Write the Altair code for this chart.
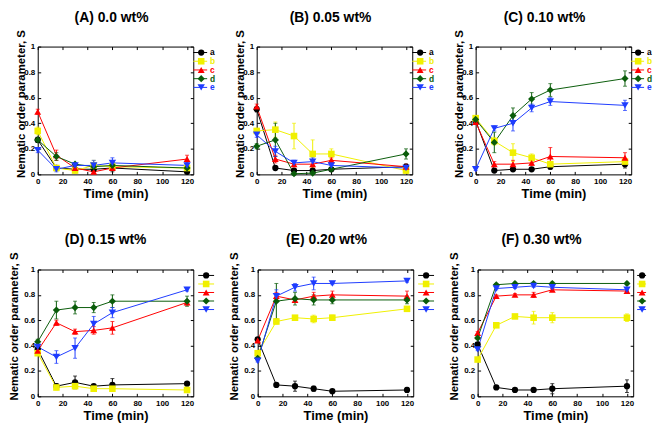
import altair as alt
import pandas as pd

# ---------------- data ----------------
times = [0, 15, 30, 45, 60, 120]
series = ["a", "b", "c", "d", "e"]
series_colors = ["#000000", "#f0f000", "#ff0000", "#0a5c0a", "#1e3cff"]
series_shapes = ["circle", "square", "triangle-up", "diamond", "triangle-down"]
series_sizes = [40, 56, 40, 30, 40]
x_ticks = [0, 20, 40, 60, 80, 100, 120]
y_ticks = [0, 0.2, 0.4, 0.6, 0.8, 1]

panel_titles = ["(A) 0.0 wt%", "(B) 0.05 wt%", "(C) 0.10 wt%",
                "(D) 0.15 wt%", "(E) 0.20 wt%", "(F) 0.30 wt%"]

# rows: series a, b, c, d, e ; columns: times
A_S = [[0.27, 0.05, 0.04, 0.04, 0.05, 0.02],
       [0.34, 0.05, 0.03, 0.07, 0.06, 0.05],
       [0.49, 0.15, 0.05, 0.02, 0.05, 0.12],
       [0.27, 0.14, 0.08, 0.06, 0.07, 0.05],
       [0.19, 0.04, 0.07, 0.07, 0.09, 0.07]]
A_err = [[0.02, 0.02, 0.01, 0.01, 0.03, 0.01],
         [0.03, 0.02, 0.02, 0.04, 0.03, 0.02],
         [0.02, 0.04, 0.02, 0.01, 0.02, 0.03],
         [0.02, 0.03, 0.01, 0.02, 0.02, 0.02],
         [0.02, 0.02, 0.02, 0.04, 0.04, 0.03]]

B_S = [[0.51, 0.05, 0.03, 0.03, 0.04, 0.06],
       [0.34, 0.35, 0.30, 0.16, 0.16, 0.03],
       [0.53, 0.12, 0.08, 0.08, 0.11, 0.06],
       [0.22, 0.27, 0.005, 0.01, 0.04, 0.16],
       [0.31, 0.18, 0.09, 0.10, 0.07, 0.05]]
B_err = [[0.02, 0.01, 0.01, 0.01, 0.01, 0.02],
         [0.02, 0.06, 0.10, 0.11, 0.04, 0.02],
         [0.02, 0.03, 0.02, 0.02, 0.02, 0.02],
         [0.02, 0.13, 0.01, 0.01, 0.01, 0.04],
         [0.02, 0.04, 0.02, 0.03, 0.02, 0.02]]

C_S = [[0.42, 0.03, 0.04, 0.04, 0.06, 0.08],
       [0.44, 0.26, 0.17, 0.13, 0.08, 0.10],
       [0.41, 0.08, 0.08, 0.09, 0.14, 0.13],
       [0.43, 0.25, 0.46, 0.59, 0.66, 0.75],
       [0.04, 0.36, 0.40, 0.52, 0.57, 0.54]]
C_err = [[0.02, 0.01, 0.01, 0.01, 0.02, 0.03],
         [0.02, 0.03, 0.07, 0.03, 0.02, 0.02],
         [0.02, 0.02, 0.03, 0.02, 0.07, 0.04],
         [0.02, 0.08, 0.06, 0.05, 0.05, 0.06],
         [0.01, 0.02, 0.06, 0.03, 0.03, 0.04]]

D_S = [[0.37, 0.08, 0.11, 0.08, 0.09, 0.10],
       [0.34, 0.07, 0.08, 0.06, 0.06, 0.05],
       [0.36, 0.58, 0.51, 0.52, 0.54, 0.74],
       [0.43, 0.68, 0.70, 0.70, 0.75, 0.75],
       [0.39, 0.31, 0.38, 0.57, 0.66, 0.84]]
D_err = [[0.02, 0.02, 0.05, 0.01, 0.05, 0.01],
         [0.01, 0.02, 0.02, 0.01, 0.01, 0.01],
         [0.02, 0.02, 0.02, 0.03, 0.05, 0.02],
         [0.02, 0.07, 0.05, 0.04, 0.05, 0.04],
         [0.02, 0.05, 0.08, 0.06, 0.04, 0.01]]

E_S = [[0.45, 0.09, 0.08, 0.06, 0.04, 0.05],
       [0.34, 0.59, 0.62, 0.61, 0.62, 0.69],
       [0.44, 0.79, 0.76, 0.79, 0.80, 0.79],
       [0.30, 0.75, 0.77, 0.76, 0.76, 0.76],
       [0.28, 0.79, 0.86, 0.89, 0.89, 0.91]]
E_err = [[0.01, 0.01, 0.04, 0.02, 0.01, 0.02],
         [0.01, 0.02, 0.01, 0.03, 0.02, 0.01],
         [0.01, 0.03, 0.02, 0.03, 0.03, 0.04],
         [0.02, 0.14, 0.05, 0.04, 0.03, 0.03],
         [0.01, 0.05, 0.03, 0.05, 0.01, 0.01]]

F_S = [[0.41, 0.07, 0.05, 0.05, 0.06, 0.08],
       [0.29, 0.56, 0.63, 0.62, 0.62, 0.62],
       [0.50, 0.79, 0.80, 0.80, 0.84, 0.83],
       [0.46, 0.88, 0.89, 0.89, 0.89, 0.89],
       [0.37, 0.85, 0.86, 0.87, 0.86, 0.84]]
F_err = [[0.01, 0.01, 0.01, 0.01, 0.04, 0.05],
         [0.01, 0.01, 0.01, 0.05, 0.04, 0.03],
         [0.01, 0.01, 0.01, 0.02, 0.01, 0.01],
         [0.01, 0.01, 0.01, 0.01, 0.01, 0.01],
         [0.01, 0.01, 0.01, 0.01, 0.01, 0.01]]

# ---------------- styling ----------------
FONT = "Liberation Sans"
W = 157
Y_TITLE = "Nematic order parameter, S"


def make_panel(title, vals, errs, title_dx, with_text, leg, y_title_x, H):
    recs = []
    for s, v, e in zip(series, vals, errs):
        for t, y, er in zip(times, v, e):
            recs.append({"series": s, "time": t, "S": y, "lo": y - er, "hi": y + er})
    df = pd.DataFrame(recs)

    xs = alt.Scale(domain=[0, 125], nice=False, zero=False)
    ys = alt.Scale(domain=[0, 1], nice=False, zero=False)
    col = alt.Color("series:N", scale=alt.Scale(domain=series, range=series_colors), legend=None)
    shp = alt.Shape("series:N", scale=alt.Scale(domain=series, range=series_shapes), legend=None)
    siz = alt.Size("series:O", scale=alt.Scale(domain=series, range=series_sizes), legend=None)

    x_main = alt.Axis(orient="bottom", values=x_ticks, format="d", offset=-3, tickSize=3,
                      tickColor="black", tickWidth=1, domain=False, grid=False,
                      labelFont=FONT, labelFontSize=8, labelFontWeight="bold", labelColor="black",
                      labelPadding=3, labelFlush=False, labelOverlap=False,
                      title="Time (min)", titleFont=FONT, titleFontSize=13, titleFontWeight="bold",
                      titleColor="black", titlePadding=2)
    y_main = alt.Axis(orient="left", values=y_ticks, format="~g", offset=-3, tickSize=3,
                      tickColor="black", tickWidth=1, domain=False, grid=False,
                      labelFont=FONT, labelFontSize=8, labelFontWeight="bold", labelColor="black",
                      labelPadding=3, labelFlush=False, labelOverlap=False,
                      title=Y_TITLE, titleFont=FONT, titleFontSize=11.5, titleFontWeight="bold",
                      titleColor="black", titleAngle=270, titleAlign="center",
                      titleBaseline="bottom", titleX=y_title_x, titleY=H / 2 - 7)
    x_top = alt.Axis(orient="top", values=x_ticks, offset=-3, tickSize=3, tickColor="black",
                     domain=False, grid=False, labels=False, title=None)
    y_right = alt.Axis(orient="right", values=y_ticks, offset=-3, tickSize=3, tickColor="black",
                       domain=False, grid=False, labels=False, title=None)

    base = alt.Chart(df)
    lines = base.mark_line(strokeWidth=1).encode(
        x=alt.X("time:Q", scale=xs, axis=x_main),
        y=alt.Y("S:Q", scale=ys, axis=y_main),
        color=col)
    err_rule = base.mark_rule(strokeWidth=1).encode(
        x=alt.X("time:Q", scale=xs, axis=None),
        y=alt.Y("lo:Q", scale=ys, axis=None), y2="hi:Q", color=col)
    err_lo = base.mark_tick(orient="horizontal", size=4, thickness=1).encode(
        x=alt.X("time:Q", scale=xs, axis=None),
        y=alt.Y("lo:Q", scale=ys, axis=None), color=col)
    err_hi = base.mark_tick(orient="horizontal", size=4, thickness=1).encode(
        x=alt.X("time:Q", scale=xs, axis=None),
        y=alt.Y("hi:Q", scale=ys, axis=None), color=col)
    points = base.mark_point(filled=True, opacity=1).encode(
        x=alt.X("time:Q", scale=xs, axis=x_top),
        y=alt.Y("S:Q", scale=ys, axis=y_right),
        color=col, shape=shp, size=siz)

    # legend (drawn in pixel space next to the frame)
    ldf = pd.DataFrame({"series": series, "i": list(range(5))})
    ldf["ly"] = leg["y0"] + ldf["i"] * leg["dy"]
    ldf["lx1"] = leg["x1"]
    ldf["lx2"] = leg["x2"]
    ldf["px"] = leg["px"]
    ldf["tx"] = leg.get("tx", 0)
    lbase = alt.Chart(ldf)
    leg_line = lbase.mark_rule(strokeWidth=1).encode(
        x=alt.X("lx1:Q", scale=None, axis=None), x2="lx2:Q",
        y=alt.Y("ly:Q", scale=None, axis=None), color=col)
    leg_pt = lbase.mark_point(filled=True, opacity=1).encode(
        x=alt.X("px:Q", scale=None, axis=None),
        y=alt.Y("ly:Q", scale=None, axis=None),
        color=col, shape=shp, size=siz)
    layers = [lines, err_rule, err_lo, err_hi, points, leg_line, leg_pt]
    if with_text:
        leg_txt = lbase.mark_text(align="left", baseline="middle", font=FONT, fontSize=8.5,
                                  fontWeight="bold").encode(
            x=alt.X("tx:Q", scale=None, axis=None),
            y=alt.Y("ly:Q", scale=None, axis=None),
            text="series:N", color=col)
        layers.append(leg_txt)

    return alt.layer(*layers).resolve_scale(x="independent", y="independent").properties(
        width=W, height=H,
        title=alt.TitleParams(text=title, font=FONT, fontSize=14, fontWeight="bold",
                              color="black", anchor="middle", dx=title_dx, offset=5))


leg_top = {"x1": 157, "x2": 171, "px": 165, "tx": 174, "y0": 6, "dy": 8.8}
leg_top_c = {"x1": 157, "x2": 170, "px": 164, "tx": 173, "y0": 6, "dy": 8.8}
leg_bot = {"x1": 162, "x2": 178, "px": 170, "y0": 6, "dy": 8.6}
leg_bot_f = {"x1": 161, "x2": 170, "px": 166, "y0": 6, "dy": 8.6}

pA = make_panel(panel_titles[0], A_S, A_err, -4, True, leg_top, -14, 129)
pB = make_panel(panel_titles[1], B_S, B_err, -4, True, leg_top, -14, 129)
pC = make_panel(panel_titles[2], C_S, C_err, -9, True, leg_top_c, -14, 129)
pD = make_panel(panel_titles[3], D_S, D_err, -10, False, leg_bot, -21, 128)
pE = make_panel(panel_titles[4], E_S, E_err, -9, False, leg_bot, -21, 128)
pF = make_panel(panel_titles[5], F_S, F_err, -14, False, leg_bot_f, -21, 128)

row1 = alt.hconcat(pA, pB, pC, spacing=64, bounds="flush")
row2 = alt.hconcat(pD, pE, pF, spacing=65, bounds="flush")

chart = alt.vconcat(row1, row2, spacing=31).properties(
    padding=0, background="white"
).configure_view(stroke="black", strokeWidth=1)

chart.save("out.html", embed_options={"renderer": "svg", "actions": False})
